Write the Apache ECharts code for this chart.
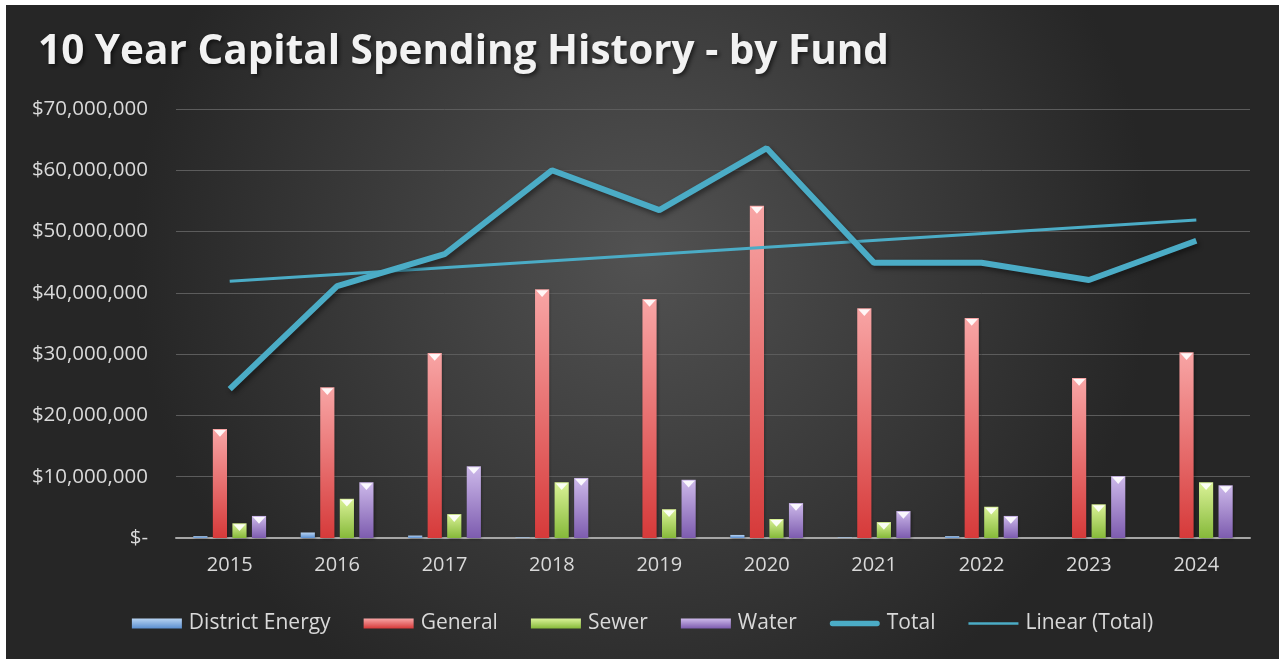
<!DOCTYPE html>
<html>
<head>
<meta charset="utf-8">
<script src="https://cdn.jsdelivr.net/npm/echarts@6/dist/echarts.min.js"></script>
<style>
  html, body { margin: 0; padding: 0; background: #ffffff; }
  #chart { position: absolute; left: 6px; top: 5px; width: 1273px; height: 654px; }
</style>
</head>
<body>
<div id="chart"></div>
<script>
// data
const years = ["2015", "2016", "2017", "2018", "2019", "2020", "2021", "2022", "2023", "2024"];
const districtEnergy = [300000, 900000, 400000, 100000, 0, 500000, 100000, 300000, 0, 0];
const general = [17800000, 24600000, 30200000, 40600000, 39000000, 54200000, 37500000, 35900000, 26100000, 30300000];
const sewer = [2400000, 6400000, 3900000, 9100000, 4700000, 3100000, 2600000, 5100000, 5500000, 9100000];
const water = [3600000, 9100000, 11700000, 9800000, 9500000, 5700000, 4400000, 3600000, 10100000, 8600000];
const total = [24300000, 41100000, 46300000, 60000000, 53500000, 63600000, 44900000, 44900000, 42100000, 48500000];
// trend line end points (Excel linear trend of Total)
const linearTotal = [41900000, null, null, null, null, null, null, null, null, 51900000];
const yTicks = [0, 10000000, 20000000, 30000000, 40000000, 50000000, 60000000, 70000000];

const fundColors = [
  { top: "#b7d3f2", bottom: "#5b8fd0" },  // District Energy
  { top: "#f8a5a5", bottom: "#d63a3a" },  // General
  { top: "#daf297", bottom: "#86b93a" },  // Sewer
  { top: "#cdb9ea", bottom: "#7d5caf" }   // Water
];

function grad(c) {
  return new echarts.graphic.LinearGradient(0, 0, 0, 1, [
    { offset: 0, color: c.top },
    { offset: 1, color: c.bottom }
  ]);
}

function fundSeries(name, data, idx) {
  return {
    name: name,
    type: "custom",
    itemStyle: { color: grad(fundColors[idx]) },
    data: data.map((v, i) => [i, v]),
    z: 2,
    renderItem: function (params, api) {
      const base = api.coord([api.value(0), 0]);
      const top = api.coord([api.value(0), api.value(1)]);
      const band = api.size([1, 0])[0];
      const w = band * 0.132;
      const step = band * 0.182;
      const cx = base[0] + (idx - 1.5) * step;
      const h = Math.max(base[1] - top[1], 0);
      const children = [{
        type: "rect",
        shape: { x: cx - w / 2, y: top[1], width: w, height: h },
        style: {
          fill: grad(fundColors[idx]),
          shadowColor: "rgba(0,0,0,0.35)", shadowBlur: 3, shadowOffsetX: 1, shadowOffsetY: 1
        }
      }];
      if (h > 6) {
        children.push({
          type: "polygon",
          shape: { points: [[cx - w / 2 + 1, top[1] + 1], [cx + w / 2 - 1, top[1] + 1], [cx, top[1] + w * 0.55]] },
          style: { fill: "rgba(255,255,255,0.9)" }
        });
      }
      return { type: "group", children: children };
    }
  };
}

const chart = echarts.init(document.getElementById("chart"));

const option = {
  backgroundColor: new echarts.graphic.RadialGradient(0.5, 0.38, 0.78, [
    { offset: 0, color: "#525252" },
    { offset: 1, color: "#262626" }
  ]),
  title: {
    text: "10 Year Capital Spending History - by Fund",
    left: 27,
    top: 22,
    textStyle: {
      color: "#f2f2f2",
      fontFamily: "Open Sans",
      fontWeight: "bold",
      fontSize: 40.5,
      textShadowColor: "rgba(0,0,0,0.6)",
      textShadowBlur: 4,
      textShadowOffsetX: 2,
      textShadowOffsetY: 2
    }
  },
  legend: {
    bottom: 20,
    left: "center",
    itemWidth: 50,
    itemHeight: 10,
    itemGap: 33,
    textStyle: { color: "#d9d9d9", fontFamily: "Open Sans", fontSize: 21, padding: [0, 0, 0, 2] },
    data: [
      { name: "District Energy", icon: "rect" },
      { name: "General", icon: "rect" },
      { name: "Sewer", icon: "rect" },
      { name: "Water", icon: "rect" },
      { name: "Total", icon: "path://M3,0 H53 A3,3 0 0 1 53,6 H3 A3,3 0 0 1 3,0 Z" },
      { name: "Linear (Total)", icon: "path://M0,0 H56 V3 H0 Z" }
    ]
  },
  grid: { left: 170, right: 29, top: 104, bottom: 121 },
  xAxis: {
    type: "category",
    data: years,
    axisTick: { show: false },
    axisLine: { lineStyle: { color: "#a6a6a6", width: 2 } },
    axisLabel: { color: "#d9d9d9", fontFamily: "Open Sans", fontSize: 20, margin: 17 }
  },
  yAxis: {
    type: "value",
    min: 0,
    max: 70000000,
    interval: 10000000,
    axisLine: { show: false },
    axisTick: { show: false },
    splitLine: { lineStyle: { color: "#5c5c5c", width: 1 } },
    axisLabel: {
      color: "#d9d9d9",
      fontFamily: "Open Sans",
      fontSize: 20.5,
      margin: 28,
      formatter: function (v) {
        if (yTicks.indexOf(v) < 0) return "";
        return v === 0 ? "$-" : "$" + v.toLocaleString("en-US");
      }
    }
  },
  series: [
    fundSeries("District Energy", districtEnergy, 0),
    fundSeries("General", general, 1),
    fundSeries("Sewer", sewer, 2),
    fundSeries("Water", water, 3),
    {
      name: "Total",
      type: "line",
      data: total,
      symbol: "none",
      color: "#4bacc6",
      z: 4,
      lineStyle: {
        width: 6,
        color: "#4bacc6",
        shadowColor: "rgba(0,0,0,0.45)",
        shadowBlur: 5,
        shadowOffsetX: 2,
        shadowOffsetY: 3
      }
    },
    {
      name: "Linear (Total)",
      type: "line",
      data: linearTotal,
      connectNulls: true,
      symbol: "none",
      color: "#4bacc6",
      z: 3,
      lineStyle: { width: 3, color: "#4bacc6" }
    }
  ]
};

chart.setOption(option);
</script>
</body>
</html>
